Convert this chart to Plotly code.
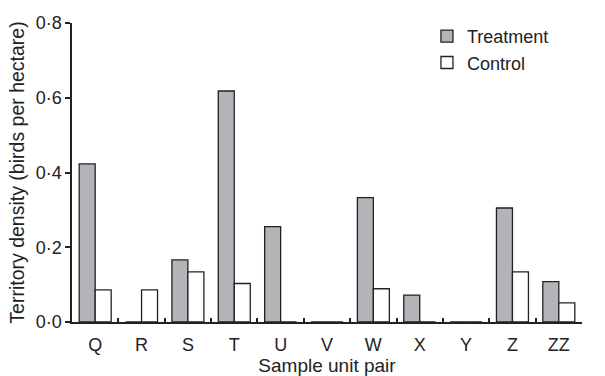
import plotly.graph_objects as go

categories = ["Q", "R", "S", "T", "U", "V", "W", "X", "Y", "Z", "ZZ"]
treatment = [0.423, 0, 0.166, 0.618, 0.255, 0, 0.333, 0.072, 0, 0.305, 0.108]
control = [0.086, 0.086, 0.134, 0.103, 0, 0, 0.089, 0, 0, 0.134, 0.051]
ytick_vals = [0, 0.2, 0.4, 0.6, 0.8]
ytick_text = ["0·0", "0·2", "0·4", "0·6", "0·8"]

font_family = "Liberation Sans, Arial, sans-serif"
ink = "#222222"

fig = go.Figure()
fig.add_trace(go.Bar(x=categories, y=treatment, name="Treatment",
                     marker=dict(color="#b3b4b8", line=dict(color=ink, width=1.3))))
fig.add_trace(go.Bar(x=categories, y=control, name="Control",
                     marker=dict(color="white", line=dict(color=ink, width=1.3))))

fig.update_layout(
    width=605, height=376,
    margin=dict(l=72, r=23, t=23, b=54),
    paper_bgcolor="white", plot_bgcolor="white",
    barmode="group", bargap=0.31, bargroupgap=0,
    font=dict(family=font_family, size=18, color=ink),
    showlegend=True,
    legend=dict(x=0.696, y=1.017, xanchor="left", yanchor="top",
                font=dict(size=18, color=ink), itemwidth=30,
                bgcolor="rgba(0,0,0,0)", tracegroupgap=0),
    xaxis=dict(
        type="category", range=[-0.5, 10.5], automargin=False,
        showline=True, linecolor=ink, linewidth=1.5,
        ticks="inside", tickson="boundaries", ticklen=4, tickwidth=1.5, tickcolor=ink,
        showgrid=False, zeroline=False, ticklabelstandoff=6,
        title=dict(text="Sample unit pair", font=dict(size=19), standoff=5),
        tickfont=dict(size=18),
    ),
    yaxis=dict(
        range=[0, 0.8], automargin=False,
        showline=True, linecolor=ink, linewidth=1.5,
        ticks="outside", ticklen=5, tickwidth=1.5, tickcolor=ink,
        tickvals=ytick_vals, ticktext=ytick_text,
        showgrid=False, zeroline=False,
        title=dict(text="Territory density (birds per hectare)", font=dict(size=19.5), standoff=6),
        tickfont=dict(size=18),
    ),
)

fig.write_html("out.html", config={"displayModeBar": False},
               post_script="document.body.style.margin='0';")
